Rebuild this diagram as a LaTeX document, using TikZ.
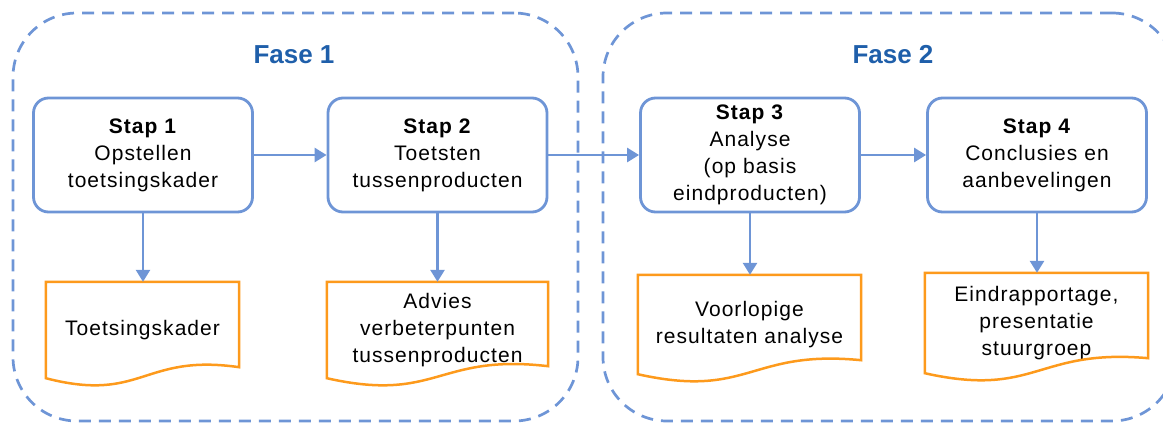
\documentclass[tikz,border=0pt]{standalone}
\usepackage{fontspec}
\setmainfont{Liberation Sans}[LetterSpace=5]
\newfontfamily\fasefont{Liberation Sans}
\usetikzlibrary{arrows.meta,calc}
\definecolor{lineblue}{HTML}{6E95D6}
\definecolor{faseblue}{HTML}{1F5FAA}
\definecolor{docorange}{HTML}{FD9A1C}
\begin{document}
\begin{tikzpicture}[x=1pt,y=-1pt,
 phase/.style={draw=lineblue, line width=2.7pt, dash pattern=on 12pt off 8pt, rounded corners=64pt, inner sep=0},
 phaselabel/.style={font=\fasefont\bfseries\fontsize{26}{30}\selectfont, text=faseblue, inner sep=0},
 stepbox/.style={draw=lineblue, line width=2.8pt, rounded corners=15pt, minimum width=219pt, minimum height=114pt, inner sep=0, align=center, font=\fontsize{21}{27}\selectfont},
 docbox/.style={inner sep=0, align=center, font=\fontsize{21}{27}\selectfont},
 docline/.style={draw=docorange, line width=2.5pt, line join=miter},
 flow/.style={draw=lineblue, line width=2.7pt, -{Triangle[length=12pt,width=14pt]}}
]
\useasboundingbox (0,0) rectangle (1163,424);

% phases
\node[phase, minimum width=565pt, minimum height=408pt] (f1) at (295.5,217) {};
\node[phase, minimum width=573pt, minimum height=408pt] (f2) at (889.5,217) {};
\node[phaselabel] (l1) at (294,55) {Fase 1};
\node[phaselabel] (l2) at (893,55) {Fase 2};

% steps
\node[stepbox] (s1) at (143,155) {\textbf{Stap 1}\\Opstellen\\toetsingskader};
\node[stepbox] (s2) at (437.5,155) {\textbf{Stap 2}\\Toetsten\\tussenproducten};
\node[stepbox] (s3) at (750,155) {\textbf{Stap 3}\\Analyse\\(op basis\\eindproducten)};
\node[stepbox] (s4) at (1037,155) {\textbf{Stap 4}\\Conclusies en\\aanbevelingen};

% documents
\node[docbox, minimum width=193pt, minimum height=96pt] (d1) at (142.5,330) {Toetsingskader};
\node[docbox, minimum width=221pt, minimum height=96pt] (d2) at (437.5,330) {Advies\\verbeterpunten\\tussenproducten};
\node[docbox, minimum width=223pt, minimum height=99pt] (d3) at (749.5,324.5) {Voorlopige\\resultaten analyse};
\node[docbox, minimum width=223pt, minimum height=100pt] (d4) at (1036.5,323) {Eindrapportage,\\presentatie\\stuurgroep};

\foreach \d/\o in {d1/11,d2/12,d3/14,d4/15}{
  \draw[docline] (\d.north west) -- (\d.north east) -- ($(\d.south east)+(0,-\o)$)
    .. controls ($(\d.south)+(0,-25)$) and ($(\d.south)+(0,25)$) .. (\d.south west) -- cycle;
}

% connectors
\draw[flow] (s1) -- (s2);
\draw[flow] (s2) -- (s3);
\draw[flow] (s3) -- (s4);
\draw[flow] (s1.south) -- (s1.south |- d1.north);
\draw[flow] (s2.south) -- (s2.south |- d2.north);
\draw[flow] (s3.south) -- (s3.south |- d3.north);
\draw[flow] (s4.south) -- (s4.south |- d4.north);
\end{tikzpicture}
\end{document}
